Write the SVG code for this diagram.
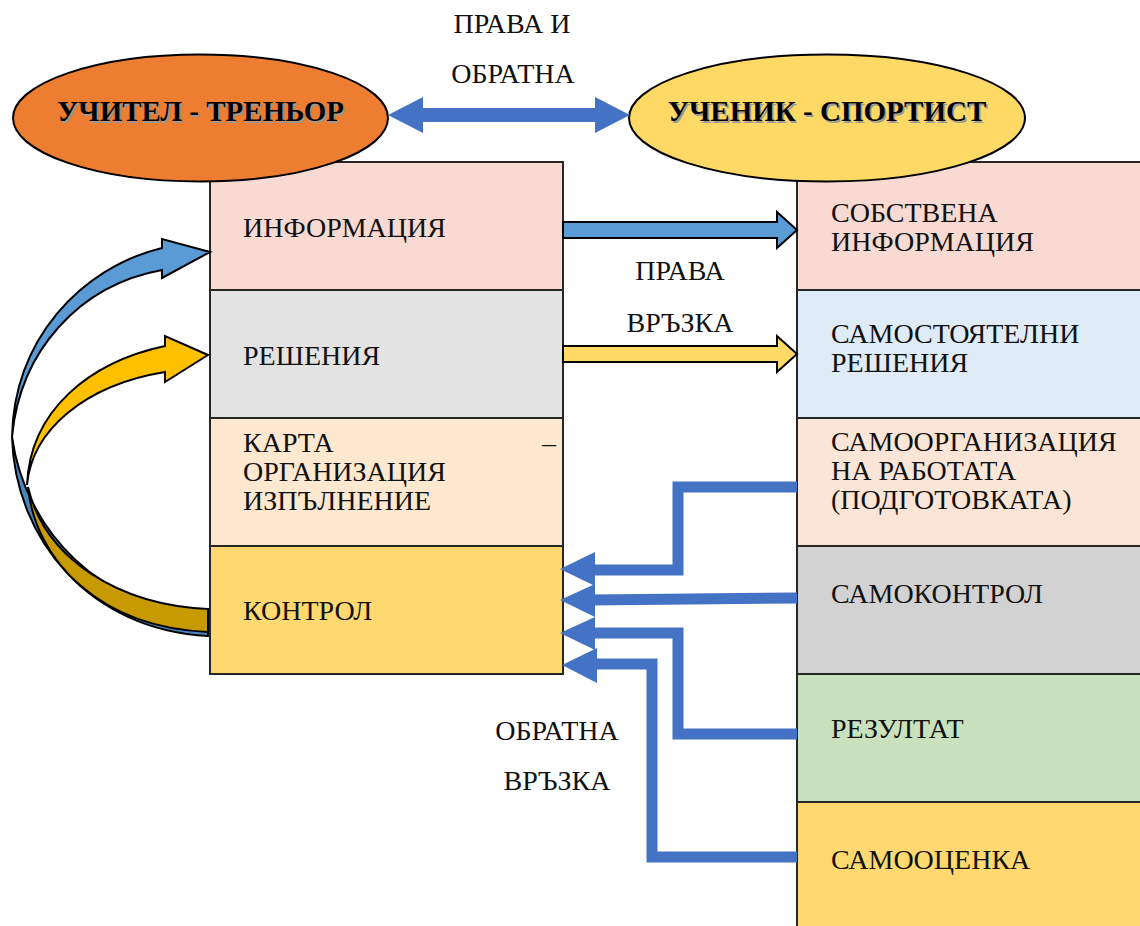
<svg xmlns="http://www.w3.org/2000/svg" width="1140" height="926" viewBox="0 0 1140 926">
<style>
.box{stroke:#262626;stroke-width:2}
text{font-family:'Liberation Serif','Times New Roman','DejaVu Serif',serif;font-size:28px}
.t{fill:#111}
.tm{fill:#111;text-anchor:middle}
.eb{font-weight:bold;text-anchor:middle;font-size:29px}
.fb{fill:none;stroke:#4472C4;stroke-width:11;stroke-linejoin:miter}
.fh{fill:#4472C4}
.ol{stroke:#000;stroke-width:2;stroke-linejoin:miter}
</style>
<rect width="1140" height="926" fill="#fff"/>

<g id="left-column">
<g id="n-informacia"><rect class="box" x="210" y="162" width="353" height="128" fill="#F8DAD3"/><text class="t" x="243" y="237">ИНФОРМАЦИЯ</text></g>
<g id="n-reshenia"><rect class="box" x="210" y="290" width="353" height="128" fill="#E3E3E3"/><text class="t" x="243" y="365">РЕШЕНИЯ</text></g>
<g id="n-karta"><rect class="box" x="210" y="418" width="353" height="128" fill="#FEE8D0"/><text class="t" x="243" y="452">КАРТА</text><text class="t" x="556" y="452" text-anchor="end">–</text><text class="t" x="243" y="481">ОРГАНИЗАЦИЯ</text><text class="t" x="243" y="510">ИЗПЪЛНЕНИЕ</text></g>
<g id="n-kontrol"><rect class="box" x="210" y="546" width="353" height="128" fill="#FFD96F"/><text class="t" x="243" y="620">КОНТРОЛ</text></g>
</g>

<g id="right-column">
<g id="n-sobstvena"><rect class="box" x="797" y="162" width="360" height="128" fill="#F8DAD3"/><text class="t" x="831" y="222">СОБСТВЕНА</text><text class="t" x="831" y="251">ИНФОРМАЦИЯ</text></g>
<g id="n-samostoyatelni"><rect class="box" x="797" y="290" width="360" height="128" fill="#DFEBF6"/><text class="t" x="831" y="343">САМОСТОЯТЕЛНИ</text><text class="t" x="831" y="372">РЕШЕНИЯ</text></g>
<g id="n-samoorganizacia"><rect class="box" x="797" y="418" width="360" height="128" fill="#FBE5D6"/><text class="t" x="831" y="451">САМООРГАНИЗАЦИЯ</text><text class="t" x="831" y="480">НА РАБОТАТА</text><text class="t" x="831" y="509">(ПОДГОТОВКАТА)</text></g>
<g id="n-samokontrol"><rect class="box" x="797" y="546" width="360" height="128" fill="#D3D2D3"/><text class="t" x="831" y="603">САМОКОНТРОЛ</text></g>
<g id="n-rezultat"><rect class="box" x="797" y="674" width="360" height="128" fill="#C9E2BD"/><text class="t" x="831" y="738">РЕЗУЛТАТ</text></g>
<g id="n-samoocenka"><rect class="box" x="797" y="802" width="360" height="140" fill="#FFD96F"/><text class="t" x="831" y="869">САМООЦЕНКА</text></g>
</g>

<g id="n-uchitel">
<ellipse cx="200.5" cy="118" rx="187.5" ry="63.5" fill="#ED7D31" stroke="#000" stroke-width="2"/>
<text class="eb" x="202" y="123" fill="#9a9a9a">УЧИТЕЛ - ТРЕНЬОР</text>
<text class="eb" x="200.5" y="121" fill="#000">УЧИТЕЛ - ТРЕНЬОР</text>
</g>
<g id="n-uchenik">
<ellipse cx="827" cy="118" rx="198" ry="63.5" fill="#FFD966" stroke="#000" stroke-width="2"/>
<text class="eb" x="828.5" y="123" fill="#9a9a9a">УЧЕНИК - СПОРТИСТ</text>
<text class="eb" x="827" y="121" fill="#000">УЧЕНИК - СПОРТИСТ</text>
</g>

<g id="connectors">
<polygon fill="#4472C4" points="388,115 423,97 423,108 595,108 595,97 630,115 595,133 595,122 423,122 423,133"/>
<path class="ol" fill="#5B9BD5" d="M563,222 L777,222 L777,212 L797,230 L777,248 L777,238 L563,238 Z"/>
<path class="ol" fill="#FFD966" d="M563,346 L777,346 L777,336 L797,354 L777,372 L777,362 L563,362 Z"/>

<path class="ol" fill="#4A86C0" d="M12,437 C15,540 90,630 208,636 L208,614 C100,610 25,530 12,437 Z"/>
<path class="ol" fill="#5B9BD5" d="M210,252 L162,239 L162,248 C80,268 14,340 12,437 C20,350 80,285 162,270 L162,278 Z"/>
<path class="ol" fill="#C89A02" d="M28,487 C45,560 120,605 208,609 L208,632 C100,628 35,560 28,487 Z"/>
<path class="ol" fill="#FFC000" d="M208,355 L165,336 L165,346 C90,362 30,410 27,485 C32,430 85,385 165,372 L165,382 Z"/>

<polyline class="fb" points="797,487 678,487 678,570 590,570"/>
<polygon class="fh" points="560,569 595,552 595,586"/>
<polyline class="fb" points="797,598 590,600"/>
<polygon class="fh" points="560,600 595,584 595,617"/>
<polyline class="fb" points="797,734 678,734 678,633 590,633"/>
<polygon class="fh" points="560,633 595,617 595,650"/>
<polyline class="fb" points="797,857 652,857 652,664 592,664"/>
<polygon class="fh" points="562,665 597,648 597,683"/>
</g>

<g id="labels">
<text class="tm" x="512" y="33">ПРАВА И</text>
<text class="tm" x="513" y="83">ОБРАТНА</text>
<text class="tm" x="680" y="280">ПРАВА</text>
<text class="tm" x="680" y="332">ВРЪЗКА</text>
<text class="tm" x="557" y="740">ОБРАТНА</text>
<text class="tm" x="557" y="790">ВРЪЗКА</text>
</g>
</svg>
